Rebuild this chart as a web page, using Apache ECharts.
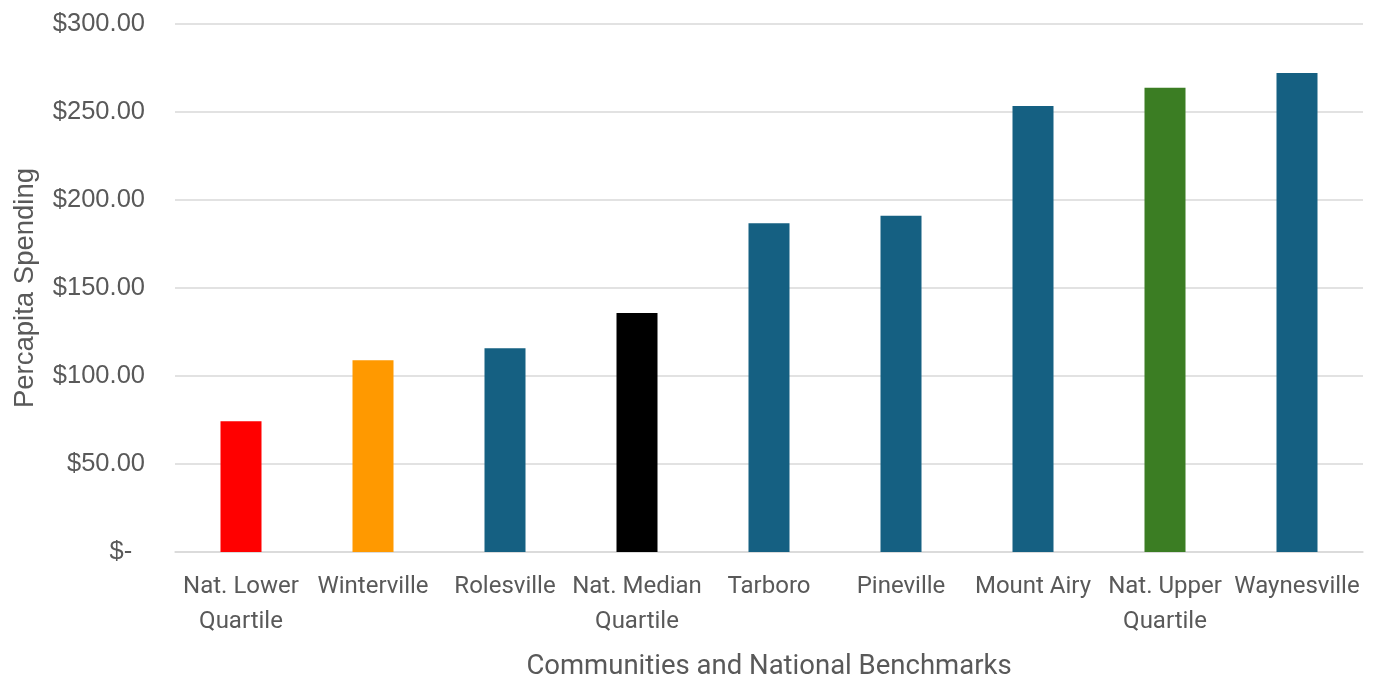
<!DOCTYPE html>
<html>
<head>
<meta charset="utf-8">
<script src="https://cdn.jsdelivr.net/npm/echarts@6/dist/echarts.min.js"></script>
<style>
html,body{margin:0;padding:0;background:#fff;}
#chart{width:1382px;height:682px;}
</style>
</head>
<body>
<div id="chart"></div>
<script>
var categories = ['Nat. Lower\nQuartile', 'Winterville', 'Rolesville', 'Nat. Median\nQuartile', 'Tarboro', 'Pineville', 'Mount Airy', 'Nat. Upper\nQuartile', 'Waynesville'];
var values = [74.3, 109, 115.8, 135.8, 186.8, 191.1, 253.4, 263.8, 272.1];
var barColors = ['#FF0000', '#FF9900', '#156082', '#000000', '#156082', '#156082', '#156082', '#3B7D23', '#156082'];
var yTicks = [0, 50, 100, 150, 200, 250, 300];
var yAxisTitle = 'Percapita Spending';
var xAxisTitle = 'Communities and National Benchmarks';

var chart = echarts.init(document.getElementById('chart'), null, {renderer: 'canvas'});
chart.setOption({
  animation: false,
  backgroundColor: '#ffffff',
  grid: {left: 175, right: 19, top: 24, bottom: 130, containLabel: false, outerBoundsMode: 'none'},
  xAxis: {
    type: 'category',
    data: categories,
    axisLine: {show: true, lineStyle: {color: '#d9d9d9', width: 1.5}},
    axisTick: {show: false},
    axisLabel: {interval: 0, color: '#595959', fontFamily: 'Roboto', fontSize: 24, lineHeight: 35, margin: 17},
    name: xAxisTitle,
    nameLocation: 'middle',
    nameGap: 101,
    nameTextStyle: {color: '#595959', fontFamily: 'Roboto', fontSize: 27.5}
  },
  yAxis: {
    type: 'value',
    min: yTicks[0],
    max: yTicks[yTicks.length - 1],
    interval: 50,
    axisLine: {show: false},
    axisTick: {show: false},
    splitLine: {lineStyle: {color: '#d9d9d9', width: 1.5}},
    axisLabel: {
      color: '#595959', fontFamily: 'Liberation Sans', fontSize: 25.5, margin: 30,
      formatter: function (v) { return v === 0 ? '$-\u2002' : '$' + v.toFixed(2); }
    },
    name: yAxisTitle,
    nameLocation: 'middle',
    nameGap: 136,
    nameRotate: 90,
    nameTextStyle: {color: '#595959', fontFamily: 'Liberation Sans', fontSize: 27.5}
  },
  series: [{
    type: 'bar',
    data: values.map(function (v, i) { return {value: v, itemStyle: {color: barColors[i]}}; }),
    barWidth: 41
  }]
});
</script>
</body>
</html>
